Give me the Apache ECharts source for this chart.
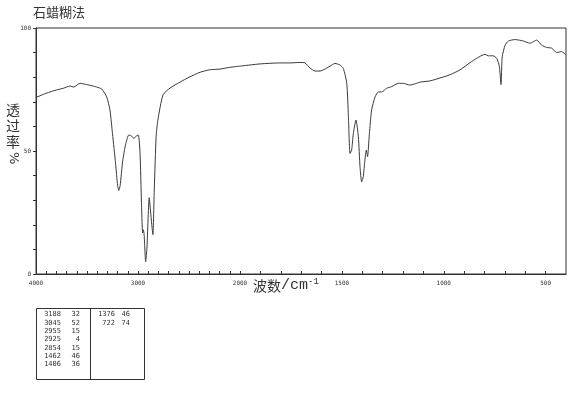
<!DOCTYPE html>
<html>
<head>
<meta charset="utf-8">
<script src="https://cdn.jsdelivr.net/npm/echarts@6/dist/echarts.min.js"></script>
<style>
html,body{margin:0;padding:0;background:#fff;}
#chart{width:570px;height:394px;}
</style>
</head>
<body>
<div id="chart"></div>
<script>
// ---- data ----
var title = '石蜡糊法';
var wavenumber = [4000,3993,3930,3863,3800,3732,3667,3630,3569,3503,3450,3405,3356,3307,3275,3250,3220,3200,3188,3175,3150,3120,3090,3060,3040,3020,2997,2980,2966,2955,2948,2940,2925,2912,2890,2878,2865,2854,2840,2822,2805,2755,2686,2588,2500,2392,2300,2196,2100,2000,
  1902,1804,1755,1706,1681,1656,1632,1607,1558,1534,1510,1493,1476,1468,1460,1452,1444,1431,1419,1411,1403,1395,1387,1380,1374,1365,1354,1337,1321,1305,1280,1255,1223,1199,1166,1133,1117,1067,1018,969,920,871,838,798,781,757,740,727,719,713,699,683,650,609,577,544,519,495,470,446,421,400];
var transmittance = [72,72,73,74,74.8,75.5,76.4,76,77.5,77,76.5,76,75.2,72,66.7,57,45,36,34,36,46,53,56.5,56,55,56,56.5,49,29,16.7,18,16,5,11,31,26,20,16,35,56,62.6,72.8,75.6,78,80,82,83,83.3,84,84.5,
  85.4,85.8,85.8,86,85.8,83.7,82.5,82.5,84.5,85.6,85,83.6,77.5,64,49,50.4,57,62.6,55.8,43.6,37.5,39.6,46.3,50.4,47.7,57,66.7,72,74,74,75.5,76.2,77.5,77.5,76.8,77.5,78,78.5,79.7,81,83,85.9,87.7,89.3,88.7,88.7,87.7,84.3,77,88.3,93,94.7,95.3,94.7,93.8,95.1,93,92.1,91.8,90,90.4,89];
var xTickLabels = [4000,3000,2000,1500,1000,500];
var yTickLabels = [0,50,100];
var peakWN = [3188,3045,2955,2925,2854,1462,1406,1376,722];
var peakT  = [32,52,15,4,15,46,36,46,74];

// ---- build ----
var high = [], low = [];
for (var i = 0; i < wavenumber.length; i++) {
  if (wavenumber[i] >= 2000) high.push([wavenumber[i], transmittance[i]]);
  if (wavenumber[i] <= 2000) low.push([wavenumber[i], transmittance[i]]);
}
var C = '#333';
var lblFont = {fontFamily:'DejaVu Sans Mono', fontSize:6, color:C};

function xLabel(exclude){
  return function(v){ return (xTickLabels.indexOf(v) >= 0 && v !== exclude) ? String(v) : ''; };
}

var graphics = [
  {type:'text', left:33, top:6, style:{text:title, font:'13px "Noto Sans CJK SC"', fill:C}},
  {type:'text', left:6, top:102, style:{text:'透\n过\n率', font:'14px "Noto Sans CJK SC"', fill:C, lineHeight:16}},
  {type:'text', x:20, y:152, rotation:-Math.PI/2, style:{text:'%', font:'13px "DejaVu Sans"', fill:C}},
  {type:'text', left:253, top:277, style:{
     text:'{a|波数}{b|/cm}{c|-1}',
     rich:{a:{font:'14px "Noto Sans CJK SC"', fill:C},
           b:{font:'15px "Liberation Mono"', fill:C},
           c:{font:'9px "Liberation Mono"', fill:C, verticalAlign:'top', padding:[0,0,8,0]}}}},
  {type:'rect', shape:{x:36.5, y:308.5, width:108, height:71}, style:{fill:'#fff', stroke:C, lineWidth:1}},
  {type:'line', shape:{x1:90.5, y1:308.5, x2:90.5, y2:379.5}, style:{stroke:C, lineWidth:1}}
];
var rowsPerCol = 7;
for (var k = 0; k < peakWN.length; k++) {
  var col = Math.floor(k / rowsPerCol), row = k % rowsPerCol;
  var baseX = col === 0 ? 61 : 115;
  var off = col === 0 ? 19 : 15;
  var yy = 311 + row * 8.3;
  graphics.push({type:'text', x:baseX, y:yy, style:{text:String(peakWN[k]), font:'7px "DejaVu Sans Mono"', fill:C, align:'right', verticalAlign:'top'}});
  graphics.push({type:'text', x:baseX + off, y:yy, style:{text:String(peakT[k]), font:'7px "DejaVu Sans Mono"', fill:C, align:'right', verticalAlign:'top'}});
}

var option = {
  backgroundColor:'#fff',
  animation:false,
  grid:[
    {left:36, top:28, width:204, height:246},
    {left:240, top:28, width:326, height:246},
    {left:36, top:28, width:530, height:246, show:true, borderColor:C, borderWidth:1, backgroundColor:'transparent'}
  ],
  xAxis:[
    {gridIndex:0, type:'value', min:2000, max:4000, interval:100, inverse:true,
     axisLine:{lineStyle:{color:C}}, axisTick:{inside:true, length:3, lineStyle:{color:C}},
     axisLabel:Object.assign({formatter:xLabel(null), margin:6, showMinLabel:true, showMaxLabel:true, hideOverlap:false}, lblFont),
     splitLine:{show:false}},
    {gridIndex:1, type:'value', min:400, max:2000, interval:100, inverse:true,
     axisLine:{lineStyle:{color:C}}, axisTick:{inside:true, length:3, lineStyle:{color:C}},
     axisLabel:Object.assign({formatter:xLabel(2000), margin:6, showMinLabel:false, showMaxLabel:false, hideOverlap:false}, lblFont),
     splitLine:{show:false}},
    {gridIndex:2, type:'value', min:0, max:1, show:false}
  ],
  yAxis:[
    {gridIndex:0, type:'value', min:0, max:100, interval:10,
     axisLine:{show:true, lineStyle:{color:C}}, axisTick:{show:true, length:3, lineStyle:{color:C}},
     axisLabel:Object.assign({formatter:function(v){return yTickLabels.indexOf(v)>=0?String(v):'';}, margin:5}, lblFont),
     splitLine:{show:false}},
    {gridIndex:1, type:'value', min:0, max:100, show:false},
    {gridIndex:2, type:'value', min:0, max:1, show:false}
  ],
  series:[
    {type:'line', xAxisIndex:0, yAxisIndex:0, data:high, showSymbol:false, smooth:0.2,
     lineStyle:{color:'#3a3a3a', width:1}, silent:true},
    {type:'line', xAxisIndex:1, yAxisIndex:1, data:low, showSymbol:false, smooth:0.2,
     lineStyle:{color:'#3a3a3a', width:1}, silent:true}
  ],
  graphic:graphics
};
var chart = echarts.init(document.getElementById('chart'), null, {renderer:'canvas'});
chart.setOption(option);
</script>
</body>
</html>
